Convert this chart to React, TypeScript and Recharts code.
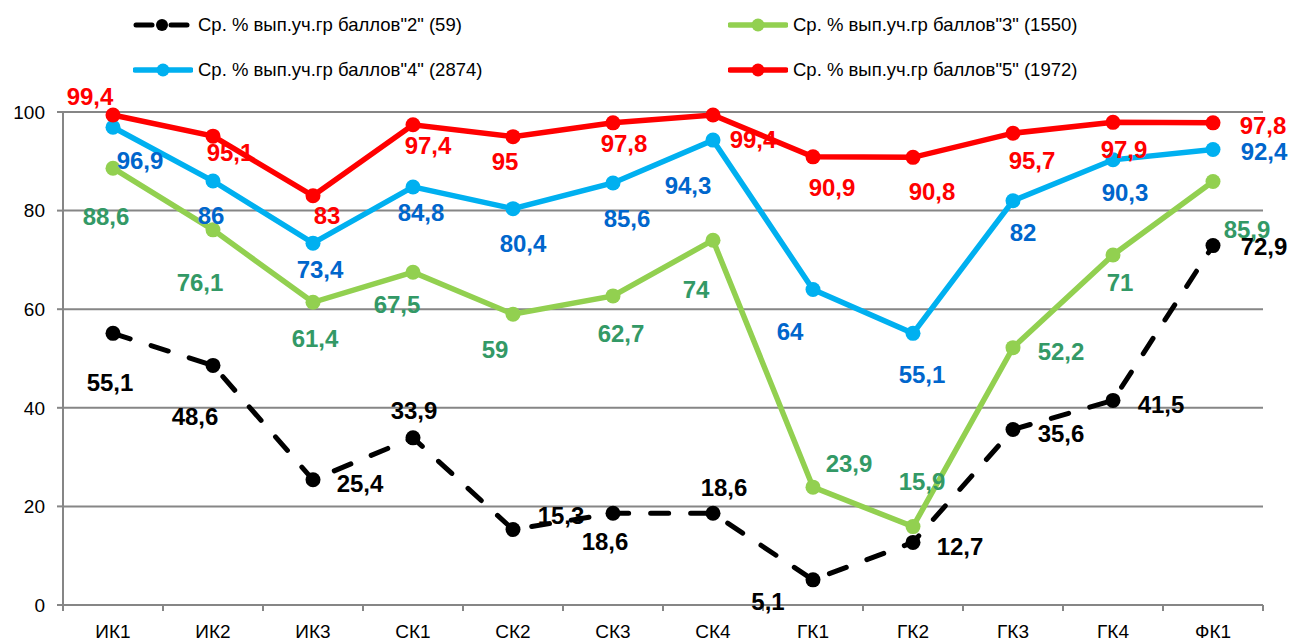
import React from 'react';
import { LineChart, Line, XAxis, YAxis, CartesianGrid } from 'recharts';

const categories = ['ИК1', 'ИК2', 'ИК3', 'СК1', 'СК2', 'СК3', 'СК4', 'ГК1', 'ГК2', 'ГК3', 'ГК4', 'ФК1'];
const grade2 = [55.1, 48.6, 25.4, 33.9, 15.3, 18.6, 18.6, 5.1, 12.7, 35.6, 41.5, 72.9];
const grade3 = [88.6, 76.1, 61.4, 67.5, 59, 62.7, 74, 23.9, 15.9, 52.2, 71, 85.9];
const grade4 = [96.9, 86, 73.4, 84.8, 80.4, 85.6, 94.3, 64, 55.1, 82, 90.3, 92.4];
const grade5 = [99.4, 95.1, 83, 97.4, 95, 97.8, 99.4, 90.9, 90.8, 95.7, 97.9, 97.8];
const yTicks = [0, 20, 40, 60, 80, 100];
const seriesNames = [
  'Ср. % вып.уч.гр баллов"2" (59)',
  'Ср. % вып.уч.гр баллов"3" (1550)',
  'Ср. % вып.уч.гр баллов"4" (2874)',
  'Ср. % вып.уч.гр баллов"5" (1972)',
];

// label placement (offset of label centre from its point), layout only
const off2 = [[-3, 49], [-18, 51], [47, 4], [1, -27], [48, -14], [-8, 28], [11, -26], [-45, 22], [47, 4], [48, 4], [48, 4], [51, 1]];
const off3 = [[-7, 48], [-13, 53], [2, 36], [-16, 32], [-18, 35], [8, 38], [-17, 49], [36, -24], [9, -45], [48, 4], [7, 28], [34, 48]];
const off4 = [[27, 33], [-2, 34], [7, 26], [8, 26], [10, 35], [14, 36], [-25, 45], [-23, 42], [9, 41], [10, 32], [12, 33], [51, 2]];
const off5 = [[-23, -18], [17, 16], [14, 20], [15, 21], [-8, 25], [11, 21], [40, 25], [19, 31], [19, 34], [19, 27], [11, 27], [50, 3]];

const data = categories.map((c, i) => ({ cat: c, g2: grade2[i], g3: grade3[i], g4: grade4[i], g5: grade5[i] }));

const W = 1289;
const H = 643;
const M = { top: 112, right: 26, bottom: 8, left: 18 };
const Y_W = 45;
const X_H = 30;
const BAND = (W - M.left - M.right - Y_W) / categories.length;

const FONT = "'Liberation Sans', Arial, sans-serif";

const fmt = (v: number) => String(v).replace('.', ',');

const makeLabel = (color: string, offs: number[][]) => (p: any) => {
  const o = offs[p.index] || [0, 0];
  return (
    <text
      key={`l-${color}-${p.index}`}
      x={p.x + o[0]}
      y={p.y + o[1]}
      textAnchor="middle"
      dominantBaseline="central"
      fontFamily={FONT}
      fontWeight="bold"
      fontSize={24}
      fill={color}
    >
      {fmt(p.value)}
    </text>
  );
};

const makeDot = (color: string, r: number) => (p: any) => (
  <circle key={`d-${color}-${p.index}`} cx={p.cx} cy={p.cy} r={r} fill={color} stroke="none" />
);

const XTick = (p: any) => {
  const { x, y, payload, index } = p;
  const last = index === categories.length - 1;
  return (
    <g>
      <line x1={x - BAND / 2} x2={x - BAND / 2} y1={y} y2={y + 6} stroke="#868686" strokeWidth={2} />
      {last && <line x1={x + BAND / 2} x2={x + BAND / 2} y1={y} y2={y + 6} stroke="#868686" strokeWidth={2} />}
      <text x={x} y={y + 26} textAnchor="middle" dominantBaseline="central" fontFamily={FONT} fontSize={19} fill="#000">
        {payload.value}
      </text>
    </g>
  );
};

const legendItems = [
  { name: seriesNames[0], color: '#000000', dashed: true, left: 133, top: 25 },
  { name: seriesNames[1], color: '#92D050', dashed: false, left: 728, top: 25 },
  { name: seriesNames[2], color: '#00B0F0', dashed: false, left: 133, top: 70 },
  { name: seriesNames[3], color: '#FF0000', dashed: false, left: 728, top: 70 },
];

export default function App() {
  return (
    <div style={{ position: 'absolute', left: 0, top: 0, width: W, height: H, background: '#fff' }}>
      <LineChart width={W} height={H} data={data} margin={M}>
        <CartesianGrid vertical={false} stroke="#868686" strokeWidth={2} />
        <XAxis
          dataKey="cat"
          height={X_H}
          padding={{ left: BAND / 2, right: BAND / 2 }}
          axisLine={{ stroke: '#868686', strokeWidth: 2 }}
          tickLine={false}
          tickSize={0}
          tickMargin={0}
          tick={<XTick />}
          interval={0}
        />
        <YAxis
          domain={[0, 100]}
          ticks={yTicks}
          width={Y_W}
          axisLine={{ stroke: '#868686', strokeWidth: 2 }}
          tickLine={{ stroke: '#868686', strokeWidth: 2 }}
          tickSize={6}
          tickMargin={12}
          tick={{ fontFamily: FONT, fontSize: 19, fill: '#000' }}
        />
        <Line
          dataKey="g2"
          name={seriesNames[0]}
          stroke="#000000"
          strokeWidth={5}
          strokeDasharray="18 22"
          strokeLinecap="round"
          dot={makeDot('#000000', 7.5)}
          label={makeLabel('#000000', off2)}
          isAnimationActive={false}
        />
        <Line
          dataKey="g3"
          name={seriesNames[1]}
          stroke="#92D050"
          strokeWidth={5.5}
          dot={makeDot('#92D050', 7.5)}
          label={makeLabel('#339966', off3)}
          isAnimationActive={false}
        />
        <Line
          dataKey="g4"
          name={seriesNames[2]}
          stroke="#00B0F0"
          strokeWidth={5.5}
          dot={makeDot('#00B0F0', 7.5)}
          label={makeLabel('#0066CC', off4)}
          isAnimationActive={false}
        />
        <Line
          dataKey="g5"
          name={seriesNames[3]}
          stroke="#FF0000"
          strokeWidth={5.5}
          dot={makeDot('#FF0000', 7.5)}
          label={makeLabel('#FF0000', off5)}
          isAnimationActive={false}
        />
      </LineChart>
      {legendItems.map((it) => (
        <div
          key={it.name}
          style={{ position: 'absolute', left: it.left, top: it.top - 12, height: 24, display: 'flex', alignItems: 'center' }}
        >
          <svg width={60} height={24} style={{ display: 'block' }}>
            {it.dashed ? (
              <g>
                <line x1={3} x2={19} y1={12} y2={12} stroke="#000" strokeWidth={5} strokeLinecap="round" />
                <line x1={38} x2={54} y1={12} y2={12} stroke="#000" strokeWidth={5} strokeLinecap="round" />
                <circle cx={29} cy={12} r={6} fill="#000" />
              </g>
            ) : (
              <g>
                <line x1={2} x2={58} y1={12} y2={12} stroke={it.color} strokeWidth={5.5} strokeLinecap="round" />
                <circle cx={30} cy={12} r={6.5} fill={it.color} />
              </g>
            )}
          </svg>
          <span style={{ marginLeft: 5, fontFamily: FONT, fontSize: 18.5, color: '#000', whiteSpace: 'nowrap', lineHeight: '24px' }}>
            {it.name}
          </span>
        </div>
      ))}
    </div>
  );
}
